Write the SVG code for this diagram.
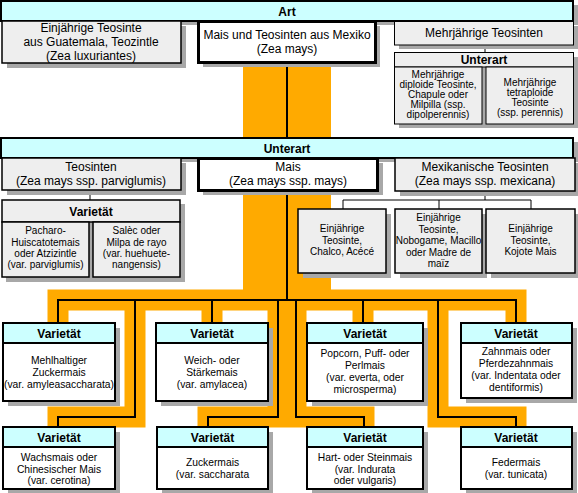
<svg xmlns="http://www.w3.org/2000/svg" width="578" height="493" viewBox="0 0 578 493">
<style>
text{font-family:"Liberation Sans",Arial,sans-serif;font-size:12px;text-anchor:middle;fill:#000}
.s{font-size:10px}
.m{font-size:10.3px}
.b{font-weight:bold}
.sh{fill:#a8a8a8}
.g{fill:#eeeeee;stroke:#000;stroke-width:1.5}
.g1{fill:#eeeeee;stroke:#000;stroke-width:1}
.c{fill:#ccffff;stroke:#000;stroke-width:2}
.c1{fill:#ccffff;stroke:#000;stroke-width:1.5}
.w{fill:#fff;stroke:#000;stroke-width:3}
.v{fill:#fff;stroke:#000;stroke-width:2}
.ln{fill:none;stroke:#000;stroke-width:2}
.ln1{fill:none;stroke:#000;stroke-width:1}
.or{fill:none;stroke:#ffaa00;stroke-width:21}
</style>
<rect width="578" height="493" fill="#fff"/>
<g id="connectors">
<rect x="243" y="63" width="88" height="237" fill="#ffaa00"/>
<path class="or" d="M58,323 V300 H516 V323 M135,300 V417 H58 V427 M278,300 V417 H208 V427 M296,300 V417 H364 V427 M438,300 V417 H516 V427 M212,300 V323 M363,300 V323"/>
<path class="ln" d="M287,63 V138 M287,191 V300 M58,323 V300 H516 V323 M135,300 V417 H58 V427 M278,300 V417 H208 V427 M296,300 V417 H364 V427 M438,300 V417 H516 V427 M212,300 V323 M363,300 V323"/>
<path class="ln1" d="M485,45 V52 M90,190 V200 M485,191 V200 M343,200 H531 M343,200 V209 M439,200 V209 M531,200 V209"/>
</g>
<g id="art">
<rect class="sh" x="5" y="5" width="573" height="20"/>
<rect class="c" x="1" y="1" width="572" height="20"/>
<text class="b" x="287" y="15.5">Art</text>
</g>
<g id="guatemala">
<rect class="sh" x="7" y="26" width="179" height="42"/>
<rect class="g" x="2" y="21" width="179" height="42"/>
<text x="91" y="31.5">Einjährige Teosinte</text>
<text x="91" y="45.5">aus Guatemala, Teozintle</text>
<text x="91" y="59.5">(Zea luxuriantes)</text>
</g>
<g id="mexiko">
<rect class="sh" x="203" y="26" width="177" height="41"/>
<rect class="w" x="198.5" y="21.5" width="177" height="41"/>
<text x="287" y="39">Mais und Teosinten aus Mexiko</text>
<text x="287" y="53">(Zea mays)</text>
</g>
<g id="mehrjaehrig">
<rect class="sh" x="399" y="26" width="179" height="23"/>
<rect class="g1" x="394.5" y="21.5" width="179" height="23.5"/>
<text x="484" y="36.5">Mehrjährige Teosinten</text>
</g>
<g id="unterart-mehrj">
<rect class="sh" x="399" y="57" width="179" height="71"/>
<rect class="g1" x="394.5" y="52.5" width="179" height="14.5"/>
<text class="b" x="484" y="63.5">Unterart</text>
</g>
<g id="diploid">
<rect class="g1" x="394.5" y="67" width="87.5" height="57"/>
<text class="s" x="438" y="78">Mehrjährige</text>
<text class="s" x="438" y="88">diploide Teosinte,</text>
<text class="s" x="438" y="98">Chapule oder</text>
<text class="s" x="438" y="108">Milpilla (ssp.</text>
<text class="s" x="438" y="118">dipolperennis)</text>
</g>
<g id="tetraploid">
<rect class="g1" x="486" y="67" width="87.5" height="57"/>
<text class="s" x="530" y="86">Mehrjährige</text>
<text class="s" x="530" y="96">tetraploide</text>
<text class="s" x="530" y="106">Teosinte</text>
<text class="s" x="530" y="115.5">(ssp. perennis)</text>
</g>
<g id="unterart">
<rect class="sh" x="5" y="142" width="573" height="20"/>
<rect class="c" x="1" y="138" width="572" height="20"/>
<text class="b" x="287" y="152.5">Unterart</text>
</g>
<g id="parviglumis">
<rect class="sh" x="7" y="163" width="179" height="32"/>
<rect class="g" x="2" y="158" width="179" height="32"/>
<text x="91" y="171">Teosinten</text>
<text x="91" y="185">(Zea mays ssp. parviglumis)</text>
</g>
<g id="mays">
<rect class="sh" x="203" y="163" width="180" height="32"/>
<rect class="w" x="198.5" y="158.5" width="179" height="32"/>
<text x="288" y="171">Mais</text>
<text x="288" y="185">(Zea mays ssp. mays)</text>
</g>
<g id="mexicana">
<rect class="sh" x="400" y="163" width="178" height="33"/>
<rect class="g" x="395" y="158" width="180" height="33"/>
<text x="485" y="171">Mexikanische Teosinten</text>
<text x="485" y="184.5">(Zea mays ssp. mexicana)</text>
</g>
<g id="varietaet-parv">
<rect class="sh" x="6" y="204" width="179" height="78"/>
<rect class="g" x="2" y="200" width="178" height="22"/>
<text class="b" x="91" y="216">Varietät</text>
</g>
<g id="pacharo">
<rect class="g" x="2" y="222" width="87" height="55"/>
<text class="s" x="45.5" y="234">Pacharo-</text>
<text class="s" x="45.5" y="245.5">Huiscatotemais</text>
<text class="s" x="45.5" y="257">oder Atzizintle</text>
<text class="s" x="45.5" y="268">(var. parviglumis)</text>
</g>
<g id="salec">
<rect class="g" x="93" y="222" width="87" height="55"/>
<text class="s" x="136.5" y="234">Salèc oder</text>
<text class="s" x="136.5" y="245.5">Milpa de rayo</text>
<text class="s" x="136.5" y="257">(var. huehuete-</text>
<text class="s" x="136.5" y="268">nangensis)</text>
</g>
<g id="chalco">
<rect class="sh" x="303" y="214" width="88" height="64"/>
<rect class="g" x="298" y="209" width="88" height="64"/>
<text class="s" x="342" y="232">Einjährige</text>
<text class="s" x="342" y="243.5">Teosinte,</text>
<text class="s" x="342" y="255">Chalco, Acécé</text>
</g>
<g id="nobogame">
<rect class="sh" x="400" y="214" width="87" height="64"/>
<rect class="g" x="395" y="209" width="87" height="64"/>
<text class="s" x="438.5" y="221">Einjährige</text>
<text class="s" x="438.5" y="232.5">Teosinte,</text>
<text class="s" x="438.5" y="244">Nobogame, Macillo</text>
<text class="s" x="438.5" y="255.5">oder Madre de</text>
<text class="s" x="438.5" y="267">maïz</text>
</g>
<g id="kojote">
<rect class="sh" x="491" y="214" width="87" height="64"/>
<rect class="g" x="486" y="209" width="89" height="64"/>
<text class="s" x="530.5" y="232">Einjährige</text>
<text class="s" x="530.5" y="243.5">Teosinte,</text>
<text class="s" x="530.5" y="255">Kojote Mais</text>
</g>
<g id="v-amyleasaccharata">
<rect class="sh" x="8" y="328" width="112" height="78"/>
<rect class="v" x="3" y="323" width="112" height="78"/>
<rect class="c" x="3" y="323" width="112" height="20"/>
<text class="b" x="59" y="337.5">Varietät</text>
<text class="m" x="59" y="364">Mehlhaltiger</text>
<text class="m" x="59" y="376">Zuckermais</text>
<text class="m" x="59" y="387.5">(var. amyleasaccharata)</text>
</g>
<g id="v-amylacea">
<rect class="sh" x="161" y="328" width="112" height="78"/>
<rect class="v" x="156" y="323" width="112" height="78"/>
<rect class="c" x="156" y="323" width="112" height="20"/>
<text class="b" x="212" y="337.5">Varietät</text>
<text class="m" x="212" y="364">Weich- oder</text>
<text class="m" x="212" y="376">Stärkemais</text>
<text class="m" x="212" y="387.5">(var. amylacea)</text>
</g>
<g id="v-everta">
<rect class="sh" x="312" y="328" width="116" height="78"/>
<rect class="v" x="307" y="323" width="116" height="78"/>
<rect class="c" x="307" y="323" width="116" height="20"/>
<text class="b" x="365" y="337.5">Varietät</text>
<text class="m" x="365" y="357">Popcorn, Puff- oder</text>
<text class="m" x="365" y="369">Perlmais</text>
<text class="m" x="365" y="381">(var. everta, oder</text>
<text class="m" x="365" y="392.5">microsperma)</text>
</g>
<g id="v-indentata">
<rect class="sh" x="466" y="328" width="111" height="75"/>
<rect class="v" x="461" y="323" width="111" height="75"/>
<rect class="c" x="461" y="323" width="111" height="20"/>
<text class="b" x="516" y="337.5">Varietät</text>
<text class="m" x="516" y="355">Zahnmais oder</text>
<text class="m" x="516" y="367">Pferdezahnmais</text>
<text class="m" x="516" y="379">(var. Indentata oder</text>
<text class="m" x="516" y="390.5">dentiformis)</text>
</g>
<g id="v-cerotina">
<rect class="sh" x="8" y="432" width="112" height="61"/>
<rect class="v" x="3" y="427" width="112" height="62"/>
<rect class="c" x="3" y="427" width="112" height="20"/>
<text class="b" x="59" y="441.5">Varietät</text>
<text class="m" x="59" y="461">Wachsmais oder</text>
<text class="m" x="59" y="472.5">Chinesischer Mais</text>
<text class="m" x="59" y="484">(var. cerotina)</text>
</g>
<g id="v-saccharata">
<rect class="sh" x="162" y="432" width="111" height="61"/>
<rect class="v" x="157" y="427" width="111" height="62"/>
<rect class="c" x="157" y="427" width="111" height="20"/>
<text class="b" x="212.5" y="441.5">Varietät</text>
<text class="m" x="212.5" y="466">Zuckermais</text>
<text class="m" x="212.5" y="478">(var. saccharata</text>
</g>
<g id="v-indurata">
<rect class="sh" x="312" y="432" width="116" height="61"/>
<rect class="v" x="307" y="427" width="116" height="62"/>
<rect class="c" x="307" y="427" width="116" height="20"/>
<text class="b" x="365" y="441.5">Varietät</text>
<text class="m" x="365" y="461">Hart- oder Steinmais</text>
<text class="m" x="365" y="472.5">(var. Indurata</text>
<text class="m" x="365" y="484">oder vulgaris)</text>
</g>
<g id="v-tunicata">
<rect class="sh" x="466" y="432" width="111" height="61"/>
<rect class="v" x="461" y="427" width="111" height="62"/>
<rect class="c" x="461" y="427" width="111" height="20"/>
<text class="b" x="516" y="441.5">Varietät</text>
<text class="m" x="516" y="466">Federmais</text>
<text class="m" x="516" y="478">(var. tunicata)</text>
</g>
</svg>
